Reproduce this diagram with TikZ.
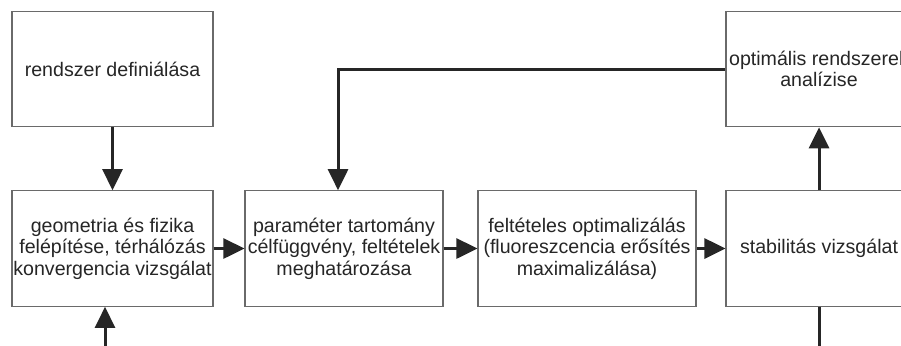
\documentclass[tikz,border=0pt]{standalone}
\usepackage{fontspec}
\setmainfont{Liberation Sans}
\usetikzlibrary{arrows.meta,calc}
\definecolor{boxline}{HTML}{6A6A6A}
\definecolor{ink}{HTML}{262626}
\begin{document}
\begin{tikzpicture}[x=1pt,y=-1pt,
  box/.style={draw=boxline,line width=1.2pt,minimum height=115.5pt,inner sep=0pt,
    align=center,text=ink,font=\fontsize{19.6pt}{21.5pt}\selectfont},
  conn/.style={draw=ink,line width=3pt,-{Triangle[length=21pt,width=20pt]}}]
\useasboundingbox (0,0) rectangle (901,345);
\clip (0,0) rectangle (901,345);
\fill[white] (0,0) rectangle (901,345);
\node[box,minimum width=201pt] (def) at (112.5,69) {rendszer definiálása};
\node[box,minimum width=201pt] (geo) at (112.5,248.5) {geometria és fizika\\felépítése, térhálózás\\konvergencia vizsgálat};
\node[box,minimum width=198pt] (par) at (344,248.5) {paraméter tartomány\\célfüggvény, feltételek\\meghatározása};
\node[box,minimum width=218pt] (opt) at (587,248.5) {feltételes optimalizálás\\(fluoreszcencia erősítés\\maximalizálása)};
\node[box,minimum width=186pt] (stab) at (819,248.5) {stabilitás vizsgálat};
\node[box,minimum width=186pt] (ana) at (819,69) {optimális rendszerek\\analízise};
\coordinate (fbcorner) at (338,69);
\coordinate (loopR) at (819,347.5);
\coordinate (loopL) at (105,347.5);
\draw[conn] (def.south) -- (geo.north);
\draw[conn] (geo.east) -- (par.west);
\draw[conn] (par.east) -- (opt.west);
\draw[conn] (opt.east) -- (stab.west);
\draw[conn] (stab.north) -- (ana.south);
\draw[conn] (ana.west) -- (fbcorner) -- (fbcorner |- par.north);
\draw[conn] (stab.south) -- (loopR) -- (loopL) -- (loopL |- geo.south);
\end{tikzpicture}
\end{document}
